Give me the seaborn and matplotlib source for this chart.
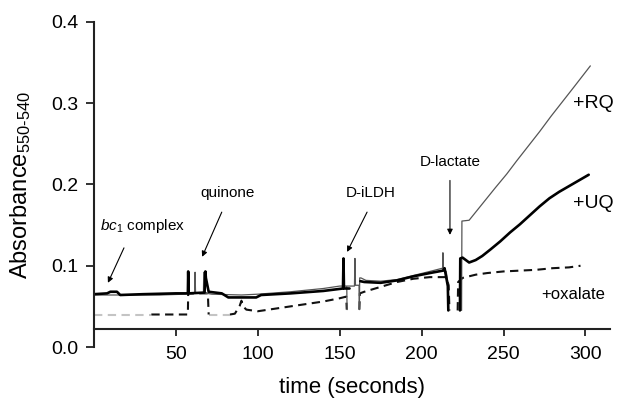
import numpy as np
import pandas as pd
import matplotlib
matplotlib.use("Agg")
import matplotlib.pyplot as plt
import seaborn as sns

# ---------------- data ----------------
# each trace is given as pieces (separate recorded segments between injections)
uq_t = [[0, 8, 10, 14, 16, 30, 50, 57.3, 57.5, 57.8, 67.5, 68, 68.3, 70, 78, 82, 99, 102, 120, 140,
         152, 152.3, 152.6, 156],
        [162.6, 165, 175, 185, 195, 205, 213, 214, 216, 216.3],
        [223.4, 223.6, 225, 229, 233, 237, 242, 248, 254, 260, 266, 272, 278, 284, 290, 296, 302]]
uq_a = [[0.065, 0.066, 0.068, 0.068, 0.064, 0.065, 0.066, 0.066, 0.093, 0.066, 0.067, 0.093, 0.085, 0.068, 0.066, 0.061, 0.061, 0.064, 0.066, 0.069,
         0.072, 0.109, 0.072, 0.072],
        [0.081, 0.080, 0.079, 0.082, 0.087, 0.091, 0.094, 0.097, 0.075, 0.045],
        [0.045, 0.109, 0.110, 0.104, 0.107, 0.112, 0.120, 0.130, 0.141, 0.151, 0.162, 0.173, 0.183, 0.191, 0.198, 0.205, 0.212]]

rq_t = [[0, 20, 40, 55, 61.5, 61.7, 62, 66.8, 67, 67.3, 69, 72, 90, 100, 120, 140, 150, 154.3, 154.5],
        [154.7, 159, 159.3, 159.6, 161.8, 162, 162.2, 163, 166, 175, 185, 195, 205, 212.8, 213, 213.2, 215, 216, 216.3],
        [224.4, 224.6, 229, 233, 239, 245, 252, 258, 265, 272, 279, 286, 293, 298, 303]]
rq_a = [[0.064, 0.064, 0.064, 0.065, 0.066, 0.092, 0.066, 0.066, 0.092, 0.066, 0.066, 0.065, 0.064, 0.065, 0.068, 0.072, 0.075, 0.075, 0.046],
        [0.075, 0.075, 0.109, 0.076, 0.076, 0.046, 0.085, 0.085, 0.082, 0.081, 0.083, 0.088, 0.093, 0.097, 0.116, 0.095, 0.093, 0.080, 0.045],
        [0.045, 0.155, 0.156, 0.166, 0.181, 0.196, 0.213, 0.229, 0.247, 0.265, 0.284, 0.302, 0.320, 0.333, 0.346]]

ox_t = [[0, 35],
        [35, 57.3, 57.5, 62, 69.5, 70],
        [70, 83],
        [83, 86, 89, 90, 91, 93, 100, 110, 120, 130, 140, 150, 154, 154.3],
        [162, 162.3, 165, 175, 185, 195, 205, 215, 216.5, 217],
        [222, 222.3, 225, 233, 240, 250, 260, 270, 280, 290, 297]]
ox_a = [[0.040, 0.040],
        [0.040, 0.040, 0.066, 0.066, 0.066, 0.040],
        [0.040, 0.040],
        [0.040, 0.041, 0.051, 0.057, 0.050, 0.046, 0.044, 0.047, 0.050, 0.053, 0.056, 0.060, 0.062, 0.046],
        [0.046, 0.066, 0.068, 0.074, 0.080, 0.084, 0.086, 0.086, 0.076, 0.045],
        [0.045, 0.080, 0.085, 0.089, 0.091, 0.093, 0.094, 0.095, 0.097, 0.098, 0.100]]
ox_shade = ["grey", "black", "grey", "black", "black", "black"]

x_ticks = [50, 100, 150, 200, 250, 300]
y_ticks = [0.0, 0.1, 0.2, 0.3, 0.4]


def pieces(ts, as_, extra=None):
    frames = []
    for i, (t, a) in enumerate(zip(ts, as_)):
        d = pd.DataFrame({"t": t, "A": a, "piece": i})
        if extra is not None:
            d["shade"] = extra[i]
        frames.append(d)
    return pd.concat(frames, ignore_index=True)


# ---------------- style ----------------
sns.set_style("ticks")
plt.rcParams["font.family"] = ["Liberation Sans", "DejaVu Sans"]
plt.rcParams["mathtext.fontset"] = "custom"
plt.rcParams["mathtext.rm"] = "Liberation Sans"
plt.rcParams["mathtext.it"] = "Liberation Sans:italic"
plt.rcParams["text.color"] = "black"
plt.rcParams["axes.labelcolor"] = "black"
plt.rcParams["xtick.color"] = "black"
plt.rcParams["ytick.color"] = "black"

fig = plt.figure(figsize=(6.26, 4.01), dpi=100)
ax = fig.add_axes([94 / 626, 1 - 347 / 401, 516 / 626, 325 / 401])

uq = pieces(uq_t, uq_a)
rq = pieces(rq_t, rq_a)
ox = pieces(ox_t, ox_a, ox_shade)

sns.lineplot(data=ox, x="t", y="A", hue="shade", units="piece",
             palette={"grey": "#c4c4c4", "black": "#111111"}, estimator=None, sort=False,
             legend=False, ax=ax, linewidth=1.5, linestyle=(0, (4, 2.6)))
sns.lineplot(data=rq, x="t", y="A", units="piece", estimator=None, sort=False, ax=ax,
             color="#555555", linewidth=0.9)
sns.lineplot(data=uq, x="t", y="A", units="piece", estimator=None, sort=False, ax=ax,
             color="black", linewidth=1.9)

ax.set_xlim(0, 315)
ax.set_ylim(0, 0.4)
ax.set_xticks(x_ticks)
ax.set_yticks(y_ticks)
ax.set_yticklabels([f"{v:.1f}" for v in y_ticks])
sns.despine(ax=ax)
ax.spines["bottom"].set_position(("data", 0.022))
for s in ["left", "bottom"]:
    ax.spines[s].set_linewidth(1.5)
    ax.spines[s].set_color("#222222")
ax.tick_params(axis="x", length=5, width=1.3, pad=7, labelsize=14, color="#222222", labelcolor="black")
ax.tick_params(axis="y", length=6, width=1.3, pad=5, labelsize=14, color="#222222", labelcolor="black")

ax.set_xlabel("time (seconds)", fontsize=16, labelpad=10, color="black")
ax.set_ylabel(r"Absorbance$_{\mathregular{550\text{-}540}}$", fontsize=17, labelpad=13, color="black")

arrow = dict(arrowstyle="-|>", color="black", lw=0.8, mutation_scale=8, shrinkA=0, shrinkB=0)
ax.annotate("", xy=(8.5, 0.079), xytext=(18.3, 0.122), arrowprops=arrow)
ax.annotate("", xy=(66, 0.111), xytext=(78, 0.166), arrowprops=arrow)
ax.annotate("", xy=(154.5, 0.117), xytext=(166.7, 0.166), arrowprops=arrow)
ax.annotate("", xy=(217.3, 0.138), xytext=(217.3, 0.205), arrowprops=arrow)

ax.text(3.7, 0.149, r"$bc_{1}$ complex", fontsize=11, ha="left", va="center", color="black")
ax.text(81.8, 0.189, "quinone", fontsize=11, ha="center", va="center", color="black")
ax.text(169, 0.189, "D-iLDH", fontsize=11, ha="center", va="center", color="black")
ax.text(217.3, 0.228, "D-lactate", fontsize=11, ha="center", va="center", color="black")
ax.text(305, 0.300, "+RQ", fontsize=14, ha="center", va="center", color="black")
ax.text(305, 0.177, "+UQ", fontsize=14, ha="center", va="center", color="black")
ax.text(292.4, 0.065, "+oxalate", fontsize=12, ha="center", va="center", color="black")

fig.savefig("out.png", dpi=100)
